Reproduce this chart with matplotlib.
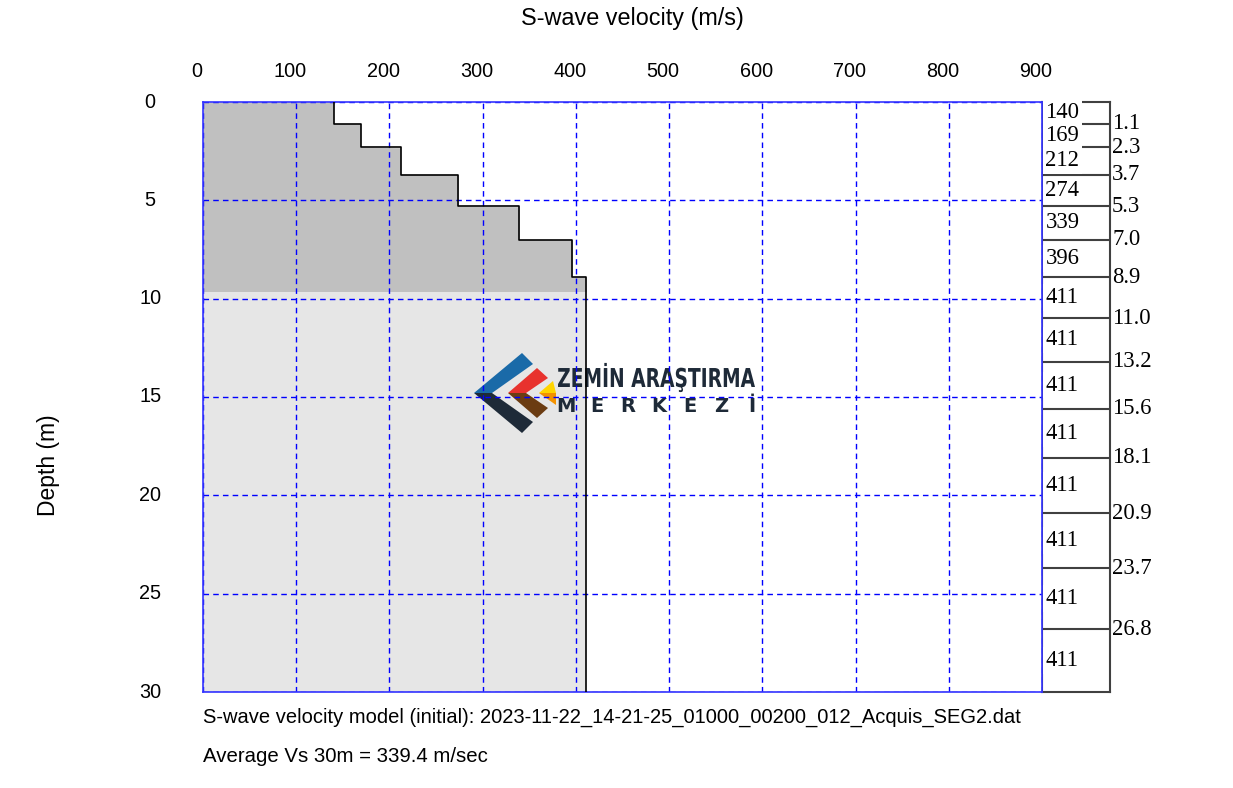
import numpy as np
import matplotlib.pyplot as plt
from matplotlib.patches import Polygon, PathPatch
from matplotlib.textpath import TextPath
from matplotlib.font_manager import FontProperties
from matplotlib.transforms import Affine2D, ScaledTranslation

# layer model (initial)
layer_top = [0.0, 1.1, 2.3, 3.7, 5.3, 7.0, 8.9, 11.0, 13.2, 15.6, 18.1, 20.9, 23.7, 26.8]
layer_vs = [140, 169, 212, 274, 339, 396, 411, 411, 411, 411, 411, 411, 411, 411]
max_depth = 30.0
shade_depth = 9.65
depth_ticks = [0, 5, 10, 15, 20, 25, 30]
vel_ticks = [0, 100, 200, 300, 400, 500, 600, 700, 800, 900]
file_name = "2023-11-22_14-21-25_01000_00200_012_Acquis_SEG2.dat"
avg_vs30 = 339.4

W, H = 1233, 788
fig = plt.figure(figsize=(W / 100, H / 100), dpi=100)
plt.rcParams['font.family'] = ['Liberation Sans', 'DejaVu Sans']

ax = fig.add_axes([203 / W, 1 - 692 / H, (1042 - 203) / W, (692 - 102) / H])
ax2 = fig.add_axes([1042 / W, 1 - 692 / H, (1110 - 1042) / W, (692 - 102) / H])
ax.set_zorder(3)
ax2.set_zorder(2)

# step profile
tops = np.array(layer_top)
bots = np.append(tops[1:], max_depth)
vs = np.array(layer_vs)
step_d = np.repeat(np.append(tops, max_depth), 2)[1:-1]
step_v = np.repeat(vs, 2)

# shaded areas
d_fill = np.linspace(0, shade_depth, 400)
v_fill = vs[np.searchsorted(bots, d_fill, side='right').clip(0, len(vs) - 1)]
ax.fill_betweenx(d_fill, 0, v_fill, color='#c0c0c0', zorder=1, lw=0)
ax.fill_betweenx([shade_depth, max_depth], 0, vs[-1], color='#e6e6e6', zorder=1, lw=0)
ax.plot(step_v, step_d, color='black', lw=1.2, zorder=4)

ax.set_xlim(0, 900)
ax.set_ylim(max_depth, 0)
ax.set_xticks(vel_ticks)
ax.set_yticks(depth_ticks)
ax.grid(True, color='#0000ff', ls=(0, (4, 3)), lw=1)
for gl in ax.get_xgridlines() + ax.get_ygridlines():
    gl.set_zorder(2)
for s in ax.spines.values():
    s.set_color('#3333ff')
    s.set_linewidth(1.2)
ax.xaxis.tick_top()
ax.tick_params(axis='x', length=0, pad=15, labelsize=14.3)
ax.tick_params(axis='y', length=0, pad=38, labelsize=14.3)
for lab in ax.get_yticklabels():
    lab.set_horizontalalignment('center')
    lab.set_transform(lab.get_transform() + ScaledTranslation(0, 2 / 100, fig.dpi_scale_trans))
for lab in ax.get_xticklabels():
    lab.set_transform(lab.get_transform() + ScaledTranslation(-6 / 100, 0, fig.dpi_scale_trans))

fig.text(632 / W, 1 - 18 / H, 'S-wave velocity (m/s)', ha='center', va='center', fontsize=16.8)
fig.text(48 / W, 1 - 465 / H, 'Depth (m)', ha='center', va='center', rotation=90, fontsize=16.5)
fig.text(203 / W, 1 - 717 / H, 'S-wave velocity model (initial): ' + file_name,
         ha='left', va='center', fontsize=14.5)
fig.text(203 / W, 1 - 757 / H, 'Average Vs 30m = %.1f m/sec' % avg_vs30,
         ha='left', va='center', fontsize=14.7)

# layer table on the right
ax2.set_xlim(0, 1)
ax2.set_ylim(max_depth, 0)
ax2.set_xticks([])
ax2.set_yticks([])
for s in ax2.spines.values():
    s.set_color('#404040')
    s.set_linewidth(1.5)
for d in tops[1:]:
    ax2.axhline(d, color='#404040', lw=1.5, zorder=1)
serif = ['Liberation Serif', 'DejaVu Serif']
for t, b, v in zip(tops, bots, vs):
    ax2.text(0.05, (t + b) / 2, str(v), ha='left', va='center', fontsize=16.3,
             family=serif, zorder=3,
             bbox=dict(boxstyle='square,pad=0.12', fc='white', ec='none'))
for d in tops[1:]:
    ax2.text(1.03, d, '%.1f' % d, ha='left', va='center', fontsize=16.3,
             family=serif, clip_on=False)

# watermark logo (image pixel coords)
px = Affine2D().scale(1, -1).translate(0, H)
logo = [
    ([(474, 393), (522, 353), (533, 364), (492, 393)], '#1a6aa8'),
    ([(474, 393), (522, 433), (533, 422), (492, 393)], '#1e2a38'),
    ([(508, 393), (537, 368), (548, 378), (526, 393)], '#e8322e'),
    ([(508, 393), (537, 418), (548, 408), (526, 393)], '#6b3c12'),
    ([(539, 393), (553, 381), (556, 393)], '#ffd400'),
    ([(539, 393), (556, 393), (556, 405)], '#f39200'),
]
for pts, c in logo:
    ax.add_patch(Polygon(pts, closed=True, fc=c, ec='none', transform=px, zorder=1.5))

bold = FontProperties(family='DejaVu Sans', weight='bold')
tp = TextPath((0, 0), 'ZEMİN ARAŞTIRMA', size=26, prop=bold)
ext = tp.get_extents()
sx = 197 / ext.width
sy = 19 / (0.73 * 26)
ax.add_patch(PathPatch(tp, fc='#1e2a38', ec='none', zorder=1.5,
                       transform=Affine2D().translate(-ext.x0, 0).scale(sx, sy).translate(558, H - 387)))
for i, ch in enumerate('MERKEZİ'):
    ax.text(566 + 31 * i, 406, ch, transform=px, ha='center', va='center',
            fontsize=14, fontweight='bold', color='#1e2a38', family='DejaVu Sans', zorder=1.5)

fig.savefig('out.png', dpi=100)
